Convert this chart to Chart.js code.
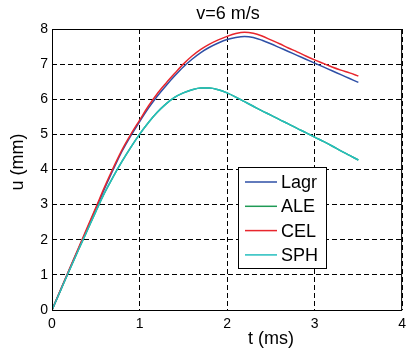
<!DOCTYPE html>
<html>
<head>
<meta charset="utf-8">
<script src="https://cdn.jsdelivr.net/npm/chart.js@4/dist/chart.umd.min.js"></script>
<style>
  body { margin: 0; background: #fff; }
  canvas { display: block; }
</style>
</head>
<body>
<canvas id="grafico" width="412" height="349"></canvas>
<script>
// datos (t en ms, u en mm)
const tiempo = [0, 0.1, 0.2, 0.3, 0.4, 0.5, 0.6, 0.7, 0.8, 0.9, 1.0, 1.1, 1.2, 1.3, 1.4, 1.5, 1.6, 1.7,
  1.8, 1.9, 2.0, 2.1, 2.2, 2.3, 2.4, 2.5, 2.6, 2.7, 2.8, 2.9, 3.0, 3.1, 3.2, 3.3, 3.4, 3.5];
const lagr = [0, 0.58, 1.16, 1.73, 2.3, 2.88, 3.45, 4.0, 4.52, 4.96, 5.36, 5.74, 6.08, 6.38, 6.66, 6.92, 7.14, 7.33,
  7.48, 7.6, 7.7, 7.76, 7.79, 7.76, 7.68, 7.58, 7.47, 7.36, 7.25, 7.14, 7.03, 6.92, 6.81, 6.7, 6.59, 6.48];
const cel = [0, 0.59, 1.17, 1.75, 2.33, 2.91, 3.5, 4.05, 4.56, 5.0, 5.4, 5.8, 6.15, 6.45, 6.73, 7.0, 7.23, 7.42,
  7.57, 7.69, 7.79, 7.87, 7.91, 7.88, 7.8, 7.69, 7.58, 7.46, 7.35, 7.23, 7.12, 7.02, 6.92, 6.83, 6.75, 6.66];
const sph = [0, 0.57, 1.14, 1.7, 2.25, 2.8, 3.33, 3.8, 4.23, 4.63, 5.0, 5.33, 5.62, 5.86, 6.05, 6.18, 6.27, 6.32,
  6.32, 6.27, 6.18, 6.06, 5.93, 5.8, 5.67, 5.55, 5.42, 5.3, 5.17, 5.05, 4.92, 4.8, 4.67, 4.53, 4.4, 4.27];
const ale = sph.slice(); // no se ve en la figura, queda bajo SPH

const etiquetas = ['Lagr', 'ALE', 'CEL', 'SPH'];
const colores = ['#2e4fa6', '#1f9a55', '#e8262d', '#25bfbf'];
const series = [lagr, ale, cel, sph];
const ordenDibujo = [4, 3, 2, 1];

const fuente = "'Liberation Sans', Arial, sans-serif";

function puntos(valores) {
  return tiempo.map((t, i) => ({ x: t, y: valores[i] }));
}

// titulo, etiquetas de ejes, marco y leyenda
const extras = {
  id: 'extras',
  afterDraw(chart) {
    const ctx = chart.ctx;
    const a = chart.chartArea;
    ctx.save();
    ctx.strokeStyle = '#000';
    ctx.lineWidth = 1;
    ctx.setLineDash([]);
    ctx.strokeRect(a.left + 0.5, a.top + 0.5, a.right - a.left - 1, a.bottom - a.top);

    ctx.fillStyle = '#000';
    ctx.font = '18px ' + fuente;
    ctx.textAlign = 'center';
    ctx.textBaseline = 'middle';
    ctx.fillText('v=6 m/s', 228, 14);
    ctx.fillText('t (ms)', 271, 339);

    ctx.save();
    ctx.translate(18, 162);
    ctx.rotate(-Math.PI / 2);
    ctx.fillText('u (mm)', 0, 0);
    ctx.restore();

    // leyenda
    const lx = 238, ly = 167, lw = 88, lh = 101;
    ctx.fillStyle = '#fff';
    ctx.fillRect(lx, ly, lw, lh);
    ctx.strokeRect(lx + 0.5, ly + 0.5, lw, lh);
    ctx.textAlign = 'left';
    chart.data.datasets.forEach((ds, i) => {
      const y = 182 + i * 24.3;
      ctx.strokeStyle = ds.borderColor;
      ctx.lineWidth = 1.5;
      ctx.beginPath();
      ctx.moveTo(245, y);
      ctx.lineTo(277, y);
      ctx.stroke();
      ctx.fillStyle = '#000';
      ctx.fillText(ds.label, 281, y + 1);
    });
    ctx.restore();
  }
};

const ctx = document.getElementById('grafico').getContext('2d');
const chart = new Chart(ctx, {
  type: 'line',
  data: {
    datasets: etiquetas.map((nombre, i) => ({
      label: nombre,
      data: puntos(series[i]),
      borderColor: colores[i],
      backgroundColor: colores[i],
      borderWidth: 1.5,
      pointRadius: 0,
      cubicInterpolationMode: 'monotone',
      order: ordenDibujo[i]
    }))
  },
  options: {
    responsive: false,
    animation: false,
    layout: { padding: { top: 29, right: 4, left: 0, bottom: 0 } },
    plugins: {
      legend: { display: false },
      tooltip: { enabled: false }
    },
    scales: {
      x: {
        type: 'linear',
        min: 0,
        max: 4,
        ticks: { stepSize: 1, color: '#000', padding: 6, font: { family: fuente, size: 14 } },
        grid: { color: '#000', drawTicks: false },
        border: { display: false, dash: [5, 3] },
        afterFit(scale) { scale.height = 39; }
      },
      y: {
        min: 0,
        max: 8,
        ticks: { stepSize: 1, color: '#000', padding: 4, font: { family: fuente, size: 14 } },
        grid: { color: '#000', drawTicks: false },
        border: { display: false, dash: [5, 3] },
        afterFit(scale) { scale.width = 52; }
      }
    }
  },
  plugins: [extras]
});
</script>
</body>
</html>
